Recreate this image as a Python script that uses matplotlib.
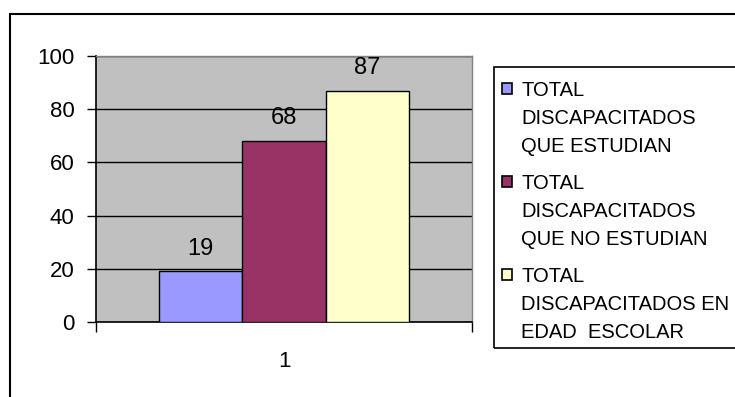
import matplotlib.pyplot as plt
from matplotlib.patches import Rectangle

plt.rcParams['font.family'] = ['Liberation Sans', 'DejaVu Sans']

# data
category = '1'
series = ['TOTAL\nDISCAPACITADOS\nQUE ESTUDIAN',
          'TOTAL\nDISCAPACITADOS\nQUE NO ESTUDIAN',
          'TOTAL\nDISCAPACITADOS EN\nEDAD  ESCOLAR']
values = [19, 68, 87]
colors = ['#9999FF', '#993366', '#FFFFCC']
yticks = [0, 20, 40, 60, 80, 100]

W, H = 735, 397
fig = plt.figure(figsize=(W / 100, H / 100), dpi=100)

# plot area (pixel coords from top-left)
ax = fig.add_axes([96 / W, 1 - 322 / H, 376 / W, 266 / H])
ax.set_facecolor('#C0C0C0')

# excel style: gap width 150%
w = 1 / 4.5
for i, (v, c) in enumerate(zip(values, colors)):
    x = 1 + (i - 1) * w
    ax.bar(x, v, width=w, color=c, edgecolor='black', linewidth=1, zorder=3)
    ax.annotate(str(v), (x, v), xytext=(0, 12), textcoords='offset points',
                ha='center', va='baseline', fontsize=17)

ax.set_xlim(0.5, 1.5)
ax.set_ylim(0, 100)
ax.set_yticks(yticks)
ax.tick_params(axis='y', direction='out', length=6.5, width=1, pad=9, labelsize=16)
ax.yaxis.grid(True, color='black', linewidth=1)
ax.set_axisbelow(True)

ax.set_xticks([0.5, 1.5])
ax.set_xticklabels(['', ''])
ax.set_xticks([1], minor=True)
ax.set_xticklabels([category], minor=True)
ax.tick_params(axis='x', which='major', direction='out', length=7, width=1)
ax.tick_params(axis='x', which='minor', length=0, pad=21, labelsize=16)

for s in ['left', 'bottom']:
    ax.spines[s].set_color('black')
    ax.spines[s].set_linewidth(1.2)
for s in ['top', 'right']:
    ax.spines[s].set_color('#808080')
    ax.spines[s].set_linewidth(1)

# outer chart frame (runs off right and bottom edges)
fig.add_artist(Rectangle((10 / W, -0.1), 1.2, 1 - 14 / H + 0.1,
                         transform=fig.transFigure, fill=False,
                         edgecolor='black', linewidth=1.5))

# legend box
fig.add_artist(Rectangle((494 / W, 1 - 348 / H), 1.0, (348 - 67) / H,
                         transform=fig.transFigure, fill=False,
                         edgecolor='black', linewidth=1.2))
for i, (lab, c) in enumerate(zip(series, colors)):
    base = 96 + 93 * i
    fig.add_artist(Rectangle((502 / W, 1 - (base - 2) / H), 10 / W, 11 / H,
                             transform=fig.transFigure, facecolor=c,
                             edgecolor='black', linewidth=1.2))
    for j, line in enumerate(lab.split('\n')):
        fig.text(521 / W, 1 - (base + 28 * j) / H, line, fontsize=14.5,
                 ha='left', va='baseline')

fig.savefig('out.png', dpi=100)
